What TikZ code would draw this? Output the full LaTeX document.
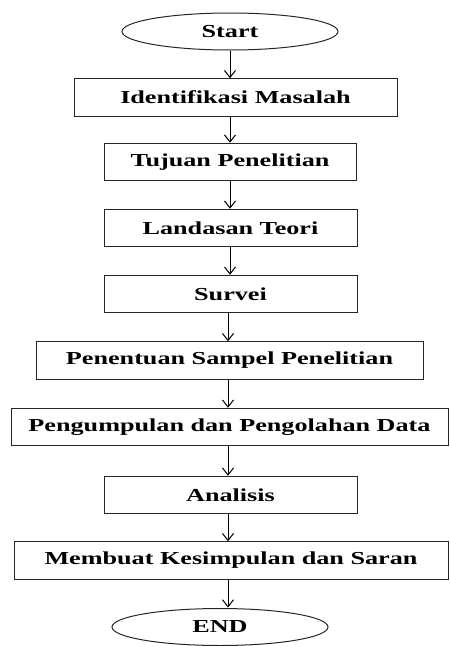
\documentclass[tikz,border=0pt]{standalone}
\usepackage{fontspec}
\setmainfont{Liberation Serif}[FakeStretch=1.43]
\usetikzlibrary{shapes.geometric,arrows.meta}
\begin{document}
\begin{tikzpicture}[x=1pt,y=-1pt,
  lbl/.style={font=\bfseries\fontsize{18.3}{20}\selectfont, text=black},
  stepbox/.style={draw=black!85, line width=1pt, rectangle, inner sep=0pt, minimum height=37.5pt, lbl},
  term/.style={draw=black!85, line width=1pt, ellipse, inner sep=0pt, minimum width=216pt, minimum height=37pt, lbl},
  arr/.style={draw=black, line width=1pt, -{Straight Barb[length=7pt,width=11pt,line width=1pt]}}
]
\useasboundingbox (0,0) rectangle (450,646);
\node[term] (start) at (230,31.5) {Start};
\node[stepbox, minimum width=323pt] (ident) at (235.5,97.5) {Identifikasi Masalah\hspace{10pt}};
\node[stepbox, minimum width=252pt] (tujuan) at (230,162) {Tujuan Penelitian};
\node[stepbox, minimum width=253pt] (landasan) at (230.5,228) {Landasan Teori};
\node[stepbox, minimum width=253pt] (survei) at (230.5,294) {Survei};
\node[stepbox, minimum width=387pt] (sampel) at (229.5,360.5) {Penentuan Sampel Penelitian};
\node[stepbox, minimum width=437pt] (kumpul) at (229.5,427) {Pengumpulan dan Pengolahan Data};
\node[stepbox, minimum width=253pt] (analisis) at (230.5,495) {Analisis};
\node[stepbox, minimum width=434pt] (simpul) at (231,560.5) {Membuat Kesimpulan dan Saran};
\node[term] (end) at (220,627) {END};
\coordinate (x1) at (230,0);
\coordinate (x2) at (228,0);
\draw[arr] (start.south -| x1) -- (ident.north -| x1);
\draw[arr] (ident.south -| x1) -- (tujuan.north -| x1);
\draw[arr] (tujuan.south -| x1) -- (landasan.north -| x1);
\draw[arr] (landasan.south -| x1) -- (survei.north -| x1);
\draw[arr] (survei.south -| x2) -- (sampel.north -| x2);
\draw[arr] (sampel.south -| x2) -- (kumpul.north -| x2);
\draw[arr] (kumpul.south -| x2) -- (analisis.north -| x2);
\draw[arr] (analisis.south -| x2) -- (simpul.north -| x2);
\draw[arr] (simpul.south -| x2) -- ([yshift=0.5pt]end.north -| x2);
\end{tikzpicture}
\end{document}
